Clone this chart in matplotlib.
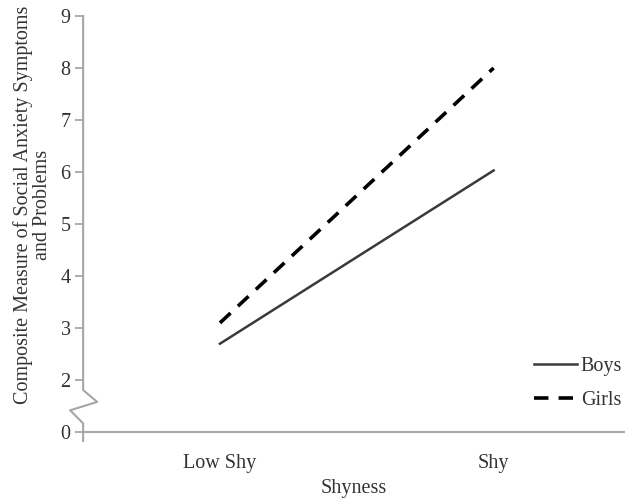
import numpy as np
import matplotlib.pyplot as plt
import matplotlib.transforms as mtransforms

plt.rcParams['font.family'] = ['Liberation Serif', 'DejaVu Serif']

categorias = ['Low Shy', 'Shy']
boys = [2.7, 6.03]
girls = [3.1, 8.0]
ytick_pos = [1, 2, 3, 4, 5, 6, 7, 8, 9]
ytick_lab = ['0', '2', '3', '4', '5', '6', '7', '8', '9']

gris = '#a6a6a6'
texto = '#333333'
fs = 14.5

fig = plt.figure(figsize=(6.25, 4.99), dpi=100)
ax = fig.add_axes([0.133, 0.134, 0.867, 0.834])

x = np.arange(1, len(categorias) + 1)
ax.plot(x, boys, color='#3a3a3a', lw=1.8, label='Boys')
ax.plot(x, girls, color='black', lw=2.6, dashes=(4, 2.8), label='Girls')

ax.set_xlim(0.5, 2.48)
ax.set_ylim(1, 9)

for s in ['top', 'right', 'left']:
    ax.spines[s].set_visible(False)
ax.spines['bottom'].set_color(gris)
ax.spines['bottom'].set_linewidth(1.5)

# eje y con corte en zigzag
tr = mtransforms.blended_transform_factory(ax.transAxes, ax.transData)
zx = [0, 0, 0.026, -0.024, 0, 0]
zy = [9, 1.81, 1.58, 1.42, 1.17, 0.83]
ax.plot(zx, zy, color=gris, lw=1.5, transform=tr, clip_on=False)

ax.set_yticks(ytick_pos)
ax.set_yticklabels(ytick_lab)
ax.tick_params(axis='y', length=6, width=1.3, color=gris, labelsize=fs,
               labelcolor=texto, pad=3)
ax.set_xticks(x)
ax.set_xticklabels(categorias)
ax.tick_params(axis='x', length=0, labelsize=fs, labelcolor=texto, pad=16)

ax.set_xlabel('Shyness', fontsize=fs, color=texto, labelpad=4)
ax.set_ylabel('Composite Measure of Social Anxiety Symptoms\nand Problems',
              fontsize=fs, color=texto, linespacing=0.95)
ax.yaxis.set_label_coords(-0.058, 0.546)

ax.legend(loc='lower right', bbox_to_anchor=(1.028, 0.01), frameon=False,
          fontsize=fs, handlelength=2.1, handletextpad=0.2, labelspacing=0.75,
          labelcolor=texto)

fig.savefig('out.png', dpi=100)
